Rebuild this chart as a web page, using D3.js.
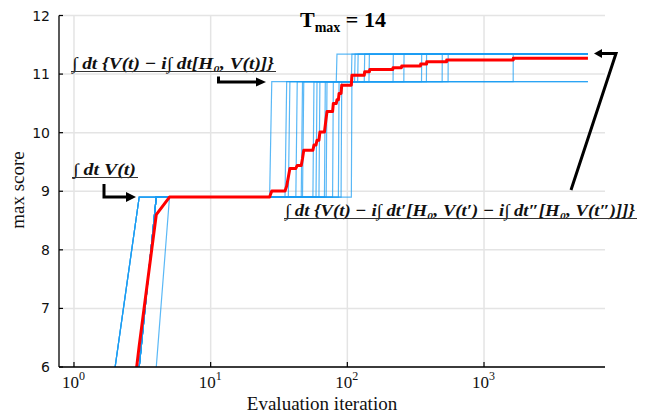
<!DOCTYPE html>
<html><head><meta charset="utf-8">
<script src="https://cdn.jsdelivr.net/npm/d3@7"></script>
<style>body{margin:0;background:#fff}</style>
</head><body><svg id="c" width="651" height="414"></svg>
<script>
// ---- data ----
const xTickValues = [1, 10, 100, 1000];
const xTickExponents = ["0", "1", "2", "3"];
const yTickValues = [6, 7, 8, 9, 10, 11, 12];
const levels = [6.0, 8.90, 10.87, 11.34];           // score plateaus
const runStart = [2, 2, 2, 2, 3, 3, 3, 3, 3, 3, 3, 3, 3, 3, 4];
const runJump2 = [28, 36, 38, 43, 47, 48, 57, 60, 63, 69, 71, 79, 87, 91, 108];
const runJump3 = [84, 108, 114, null, 120, 134, 145, 217, 260, 350, null, 380, 495, 547, 1636];
const lastIter = 5760;
const meanEarlyIter = [2, 3, 4, 5];
const meanEarlyVal = [2.9, 6.36, 8.60, 8.90];
const meanStepIter = [28, 36, 37, 38, 43, 47, 48, 57, 60, 63, 69, 70, 71, 79, 84, 87, 91, 108, 134, 146, 216, 250, 344, 381, 533, 1638];
const meanStepVal = [9.005, 9.09, 9.24, 9.39, 9.44, 9.56, 9.70, 9.79, 9.87, 10.01, 10.13, 10.25, 10.36, 10.50, 10.56, 10.67, 10.81, 10.98, 11.04, 11.08, 11.11, 11.14, 11.17, 11.21, 11.24, 11.27];
const titleMain = "T", titleSub = "max", titleRest = " = 14";
const xLabel = "Evaluation iteration", yLabel = "max score";
const formulas = [
  "∫ dt V(t)",
  "∫ dt {V(t) − i∫ dt[H₀, V(t)]}",
  "∫ dt {V(t) − i∫ dt′[H₀, V(t′) − i∫ dt″[H₀, V(t″)]]}"
];

// ---- build series ----
const runs = runStart.map((s, k) => {
  const p = [[s, levels[0]], [s + 1, levels[1]], [runJump2[k] - 1, levels[1]], [runJump2[k], levels[2]]];
  let fin = levels[2];
  if (runJump3[k] != null) { p.push([runJump3[k] - 1, levels[2]], [runJump3[k], levels[3]]); fin = levels[3]; }
  p.push([lastIter, fin]);
  return p;
});
const mean = meanEarlyIter.map((d, i) => [d, meanEarlyVal[i]]);
let prev = meanEarlyVal[meanEarlyVal.length - 1];
meanStepIter.forEach((it, i) => { mean.push([it - 1, prev], [it, meanStepVal[i]]); prev = meanStepVal[i]; });
mean.push([lastIter, prev]);

// ---- chart ----
const svg = d3.select("#c");
const L = 59, R = 605, T = 15.5, B = 367;
const x = d3.scaleLog().domain([0.777, 7678]).range([L, R]);
const y = d3.scaleLinear().domain([6, 12]).range([B, T]);

const grid = svg.append("g").attr("stroke", "#e4e4e4").attr("stroke-width", 1.5);
grid.selectAll(".gx").data(xTickValues).join("line")
  .attr("x1", d => x(d)).attr("x2", d => x(d)).attr("y1", T).attr("y2", B);
grid.selectAll(".gy").data(yTickValues).join("line")
  .attr("x1", L).attr("x2", R).attr("y1", d => y(d)).attr("y2", d => y(d));

svg.append("clipPath").attr("id", "clip").append("rect")
  .attr("x", L).attr("y", T - 2).attr("width", R - L).attr("height", B - T + 2);

const line = d3.line().x(d => x(d[0])).y(d => y(d[1]));
const plot = svg.append("g").attr("clip-path", "url(#clip)");
plot.selectAll(".run").data(runs).join("path")
  .attr("d", line).attr("fill", "none")
  .attr("stroke", "#1a9cf2").attr("stroke-opacity", 0.72).attr("stroke-width", 1.2);
plot.append("path").datum(mean).attr("d", line).attr("fill", "none")
  .attr("stroke", "#ff0000").attr("stroke-width", 3).attr("stroke-linejoin", "round");

// axes
const ax = svg.append("g");
ax.append("line").attr("x1", L).attr("x2", L).attr("y1", T).attr("y2", B).attr("stroke", "#000").attr("stroke-width", 1.3);
ax.append("line").attr("x1", L).attr("x2", R).attr("y1", B).attr("y2", B).attr("stroke", "#000").attr("stroke-width", 1.3);
ax.selectAll(".ty").data(yTickValues).join("line")
  .attr("x1", L).attr("x2", L + 4).attr("y1", d => y(d)).attr("y2", d => y(d)).attr("stroke", "#000").attr("stroke-width", 1.2);
ax.selectAll(".tx").data(xTickValues).join("line")
  .attr("x1", d => x(d)).attr("x2", d => x(d)).attr("y1", B).attr("y2", B - 5).attr("stroke", "#000").attr("stroke-width", 1.2);
ax.selectAll(".ly").data(yTickValues).join("text")
  .attr("x", 50).attr("y", d => y(d) + 5).attr("text-anchor", "end")
  .attr("font-family", "DejaVu Sans").attr("font-size", 14).attr("fill", "#111").text(d => d);
const xl = ax.selectAll(".lx").data(xTickValues).join("text")
  .attr("x", d => x(d) - 12).attr("y", 388)
  .attr("font-family", "Liberation Serif").attr("font-size", 17).attr("fill", "#111");
xl.append("tspan").text("10");
xl.append("tspan").attr("dy", -8).attr("font-size", 12).text((d, i) => xTickExponents[i]);

svg.append("text").attr("x", 322).attr("y", 410).attr("text-anchor", "middle")
  .attr("font-family", "Liberation Serif").attr("font-size", 19).attr("fill", "#111").text(xLabel);
svg.append("text").attr("transform", "translate(24,190) rotate(-90)").attr("text-anchor", "middle")
  .attr("font-family", "Liberation Serif").attr("font-size", 19).attr("fill", "#111").text(yLabel);

// title
const tt = svg.append("text").attr("x", 300).attr("y", 27)
  .attr("font-family", "Liberation Serif").attr("font-weight", "bold").attr("font-size", 22).attr("fill", "#000");
tt.append("tspan").text(titleMain);
tt.append("tspan").attr("dy", 5).attr("font-size", 14).text(titleSub);
tt.append("tspan").attr("dy", -5).text(titleRest);

// annotations
function formula(str, x0, base, width, fs) {
  svg.append("text").attr("x", x0).attr("y", base)
    .attr("font-family", "Liberation Serif").attr("font-style", "italic").attr("font-weight", "bold")
    .attr("font-size", fs).attr("fill", "#111")
    .attr("textLength", width).attr("lengthAdjust", "spacingAndGlyphs").text(str);
  svg.append("line").attr("x1", x0 - 1).attr("x2", x0 + width + 2).attr("y1", base + 2.5).attr("y2", base + 2.5)
    .attr("stroke", "#333").attr("stroke-width", 1.1);
}
formula(formulas[0], 73, 175, 63, 16);
formula(formulas[1], 72, 69, 202, 17);
formula(formulas[2], 285, 216, 350, 17);

function arrow(pts, head) {
  svg.append("path").attr("d", d3.line()(pts)).attr("fill", "none").attr("stroke", "#000").attr("stroke-width", 3);
  svg.append("path").attr("d", d3.line()(head) + "Z").attr("fill", "#000");
}
arrow([[104, 184], [104, 197], [128, 197]], [[136, 197], [126, 192], [126, 202]]);
arrow([[218.5, 76.5], [218.5, 82], [258, 82]], [[266, 82], [256, 77.5], [256, 86.5]]);
arrow([[571, 190], [616, 53.5], [600, 53.5]], [[594, 53.5], [602, 49], [602, 58]]);
</script></body></html>
